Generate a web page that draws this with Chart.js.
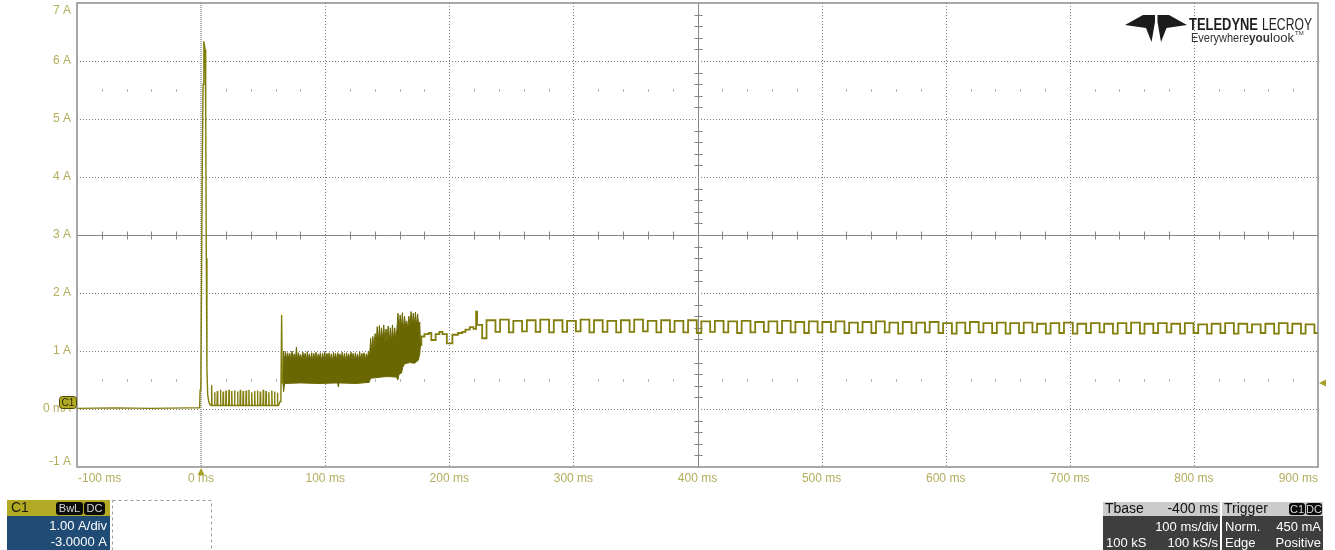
<!DOCTYPE html>
<html>
<head>
<meta charset="utf-8">
<script src="https://cdn.jsdelivr.net/npm/chart.js@4.4.1/dist/chart.umd.min.js"></script>
<style>
  html, body { margin: 0; padding: 0; background: #ffffff; }
  canvas { display: block; }
</style>
</head>
<body>
<canvas id="scope" width="1335" height="550"></canvas>
<script>
// ---- Axis setup (time in ms, current in A) ----
const timeTicks = [-100, 0, 100, 200, 300, 400, 500, 600, 700, 800, 900];
const timeTickLabels = ['-100 ms', '0 ms', '100 ms', '200 ms', '300 ms', '400 ms', '500 ms', '600 ms', '700 ms', '800 ms', '900 ms'];
const ampTicks = [7, 6, 5, 4, 3, 2, 1, 0, -1];
const ampTickLabels = ['7 A', '6 A', '5 A', '4 A', '3 A', '2 A', '1 A', '0 mA', '-1 A'];
const triggerLevel = 0.45; // A

// ---- C1 current trace, [ms, A] ----
const preTrigger = [[-100, 0.01], [-70, 0.02], [-40, 0.01], [-10, 0.02], [-1.2, 0.02]];
const inrush = [[-0.8, 0.33], [-0.2, 0.36], [0.4, 2.4], [1.0, 4.3], [1.6, 5.6], [2.2, 6.34], [2.7, 6.28],
                [3.2, 6.2], [3.7, 5.2], [4.2, 2.6], [4.7, 0.7], [5.3, 0.25], [6.2, 0.12], [7.4, 0.07]];
// short pulses on the idle level
const pulseBase = 0.06;
const pulseTimes = [8.5, 10.9, 13.1, 15.6, 17.8, 20.1, 22.5, 24.7, 27.0, 29.4, 31.6, 33.9,
                    36.3, 38.5, 40.8, 43.2, 45.4, 47.7, 50.1, 52.3, 54.6, 57.0, 59.2, 61.5];
const pulsePeaks = [0.41, 0.29, 0.31, 0.33, 0.30, 0.32, 0.33, 0.31, 0.32, 0.30, 0.33, 0.31,
                    0.32, 0.33, 0.29, 0.31, 0.32, 0.30, 0.33, 0.31, 0.29, 0.32, 0.30, 0.28];
const preBurst = [[62.6, 0.07], [63.6, 0.13], [64.3, 0.24], [64.9, 1.62], [65.4, 0.45], [65.8, 0.5]];

// dense switching burst: upper and lower envelopes
const burstTop = [
  [65.8, 0.5], [66.4, 1.0], [67.2, 0.84], [68.0, 0.99], [68.9, 0.86], [69.8, 0.97], [70.6, 0.85], [71.5, 0.96],
  [72.4, 0.83], [73.2, 1.0], [74.1, 0.87], [75.0, 0.95], [75.9, 0.82], [76.8, 1.07], [77.6, 0.85], [78.5, 0.97],
  [79.4, 0.87], [80.3, 0.94], [81.2, 0.83], [82.0, 0.98], [82.9, 0.86], [83.8, 0.96], [84.7, 0.82], [85.6, 0.99],
  [86.4, 0.87], [87.3, 0.95], [88.2, 0.84], [89.1, 0.97], [90.0, 0.82], [90.8, 0.96], [91.7, 0.86], [92.6, 0.98],
  [93.5, 0.84], [94.4, 0.95], [95.2, 0.87], [96.1, 0.97], [97.0, 0.83], [97.9, 0.96], [98.8, 0.85], [99.6, 0.99],
  [100.5, 0.83], [101.4, 0.96], [102.3, 0.87], [103.2, 0.97], [104.0, 0.84], [104.9, 0.95], [105.8, 0.82], [106.7, 0.98],
  [107.6, 0.86], [108.4, 0.96], [109.3, 0.84], [110.2, 0.97], [111.1, 0.87], [112.0, 0.95], [112.8, 0.83], [113.7, 0.98],
  [114.6, 0.85], [115.5, 0.96], [116.4, 0.82], [117.2, 0.97], [118.1, 0.86], [119.0, 0.95], [119.9, 0.84], [120.8, 0.98],
  [121.6, 0.87], [122.5, 0.96], [123.4, 0.83], [124.3, 0.97], [125.2, 0.85], [126.0, 0.95], [126.9, 0.84], [127.8, 0.98],
  [128.7, 0.83], [129.6, 0.96], [130.4, 0.87], [131.3, 0.97], [132.2, 0.84], [133.1, 0.95], [134.0, 0.86], [134.8, 1.0],
  [135.7, 0.88], [136.6, 1.22], [137.5, 1.0], [138.4, 1.25], [139.3, 1.05], [140.2, 1.3], [141.0, 1.1], [141.9, 1.42],
  [142.8, 1.15], [143.7, 1.44], [144.6, 1.17], [145.4, 1.4], [146.3, 1.2], [147.2, 1.45], [148.1, 1.15], [149.0, 1.38],
  [149.8, 1.18], [150.7, 1.43], [151.6, 1.17], [152.5, 1.4], [153.4, 1.15], [154.2, 1.45], [155.1, 1.18], [156.0, 1.4],
  [156.9, 1.2], [157.8, 1.38], [158.6, 1.65], [159.5, 1.35], [160.4, 1.62], [161.3, 1.4], [162.2, 1.66], [163.0, 1.36],
  [163.9, 1.6], [164.8, 1.42], [165.7, 1.52], [166.6, 1.38], [167.4, 1.6], [168.3, 1.44], [169.2, 1.68], [170.1, 1.46],
  [171.0, 1.65], [171.8, 1.42], [172.7, 1.67], [173.6, 1.44], [174.5, 1.64], [175.4, 1.4], [176.2, 1.5], [176.8, 1.1]
];
const burstBottom = [
  [65.8, 0.5], [66.5, 0.3], [67.3, 0.44], [80, 0.45], [95, 0.44], [110, 0.45], [110.6, 0.38], [111.2, 0.45],
  [125, 0.44], [135.5, 0.46], [136.5, 0.53], [145, 0.55], [150, 0.56], [157.5, 0.55], [158.5, 0.5], [159.5, 0.6],
  [161.5, 0.62], [162.5, 0.72], [164, 0.78], [168, 0.8], [172, 0.79], [175, 0.84], [176.2, 0.95], [176.8, 1.1]
];

// settling: each point is the level that starts at that time
const rampSteps = [
  [176.8, 1.1], [177.5, 1.25], [180, 1.29], [183.5, 1.31], [185.5, 1.19], [189, 1.29], [192, 1.33], [194.5, 1.29],
  [198, 1.13], [202.5, 1.28], [207, 1.31], [210.5, 1.33], [213, 1.37], [216.5, 1.41], [219.5, 1.38], [221.6, 1.68],
  [222.4, 1.45], [226.5, 1.22]
];
// steady ripple: rising edge, falling edge, plateau level, dip level per cycle
const rippleRise = [230.0, 240.9, 251.6, 262.5, 273.3, 284.2, 294.9, 305.8, 316.6, 327.4, 338.3, 349.0, 359.9, 370.7,
  381.5, 392.4, 403.1, 414.0, 424.8, 435.6, 446.5, 457.2, 468.1, 478.9, 489.7, 500.6, 511.3, 522.2, 533.0, 543.8,
  554.7, 565.4, 576.3, 587.1, 597.9, 608.8, 619.5, 630.4, 641.2, 652.0, 662.9, 673.6, 684.5, 695.3, 706.1, 717.0,
  727.7, 738.6, 749.4, 760.2, 771.1, 781.8, 792.7, 803.5, 814.3, 825.2, 835.9, 846.8, 857.6, 868.4, 879.3, 890.0];
const rippleFall = [237.2, 248.0, 258.6, 269.6, 280.4, 291.2, 302.0, 312.9, 323.6, 334.5, 345.3, 356.1, 366.9, 377.8,
  388.6, 399.4, 410.2, 421.0, 431.9, 442.7, 453.5, 464.3, 475.1, 486.0, 496.8, 507.6, 518.4, 529.2, 540.1, 550.9,
  561.7, 572.5, 583.3, 594.2, 605.0, 615.8, 626.6, 637.4, 648.3, 659.1, 669.9, 680.7, 691.5, 702.4, 713.2, 724.0,
  734.8, 745.6, 756.5, 767.3, 778.1, 788.9, 799.7, 810.6, 821.4, 832.2, 843.0, 853.8, 864.7, 875.5, 886.3, 897.1];
const rippleHigh = [1.53, 1.54, 1.52, 1.53, 1.54, 1.53, 1.52, 1.54, 1.53, 1.52, 1.53, 1.54, 1.52, 1.53, 1.52, 1.53,
  1.51, 1.52, 1.51, 1.52, 1.50, 1.51, 1.52, 1.50, 1.51, 1.50, 1.51, 1.49, 1.50, 1.51, 1.49, 1.50, 1.49, 1.50, 1.48,
  1.49, 1.50, 1.48, 1.49, 1.48, 1.49, 1.47, 1.48, 1.49, 1.47, 1.48, 1.47, 1.48, 1.49, 1.47, 1.48, 1.47, 1.48, 1.46,
  1.47, 1.48, 1.47, 1.46, 1.47, 1.48, 1.47, 1.46];
const rippleLow = [1.33, 1.32, 1.34, 1.33, 1.32, 1.33, 1.34, 1.32, 1.33, 1.32, 1.33, 1.34, 1.32, 1.33, 1.32, 1.31,
  1.33, 1.32, 1.31, 1.32, 1.33, 1.31, 1.32, 1.31, 1.32, 1.33, 1.31, 1.32, 1.31, 1.32, 1.30, 1.31, 1.32, 1.31, 1.30,
  1.31, 1.32, 1.31, 1.30, 1.31, 1.32, 1.30, 1.31, 1.30, 1.31, 1.32, 1.30, 1.31, 1.30, 1.31, 1.32, 1.30, 1.31, 1.30,
  1.31, 1.30, 1.32, 1.31, 1.30, 1.31, 1.30, 1.31];

// ---- assemble point lists ----
const pt = ([x, y]) => ({ x, y });
const pulsePts = [];
pulseTimes.forEach((t, i) => {
  pulsePts.push({ x: t - 0.3, y: pulseBase }, { x: t, y: pulsePeaks[i] }, { x: t + 0.3, y: pulseBase });
});
const startTrace = [...preTrigger.map(pt), ...inrush.map(pt), ...pulsePts, ...preBurst.map(pt)];

const ripplePts = rampSteps.map(pt);
const cycles = Math.min(rippleRise.length, rippleFall.length, rippleHigh.length, rippleLow.length);
for (let i = 0; i < cycles; i++) {
  ripplePts.push({ x: rippleRise[i], y: rippleHigh[i] }, { x: rippleFall[i], y: rippleLow[i] });
}
ripplePts.push({ x: timeTicks[timeTicks.length - 1], y: rippleLow[cycles - 1] });

// ---- colours ----
const TRACE = '#827e0c';
const BURST = '#6a6702';
const LABEL = '#b3ad5c';
const GRID = '#7c7c7c';
const FONT = '"Liberation Sans", Arial, sans-serif';

const X_MIN = timeTicks[0], X_MAX = timeTicks[timeTicks.length - 1];
const Y_MIN = ampTicks[ampTicks.length - 1], Y_MAX = ampTicks[0];

// graticule drawn beneath the trace
const graticule = {
  id: 'graticule',
  beforeDatasetsDraw(chart) {
    const { ctx, chartArea: a, scales: { x, y } } = chart;
    const px = v => Math.round(x.getPixelForValue(v)) + 0.5;
    const py = v => Math.round(y.getPixelForValue(v)) + 0.5;
    ctx.save();
    ctx.lineWidth = 1;
    // dotted divisions
    ctx.strokeStyle = GRID;
    ctx.setLineDash([1, 2]);
    timeTicks.forEach(t => {
      if (t === X_MIN || t === X_MAX || t === 400 || t === 0) return;
      ctx.beginPath(); ctx.moveTo(px(t), a.top); ctx.lineTo(px(t), a.bottom); ctx.stroke();
    });
    ampTicks.forEach(v => {
      if (v === Y_MIN || v === Y_MAX || v === 3) return;
      ctx.beginPath(); ctx.moveTo(a.left, py(v)); ctx.lineTo(a.right, py(v)); ctx.stroke();
    });
    // trigger-time marker line
    ctx.strokeStyle = '#a9a9a9';
    ctx.lineWidth = 2;
    ctx.setLineDash([1, 1]);
    const zx = Math.round(x.getPixelForValue(0));
    ctx.beginPath(); ctx.moveTo(zx, a.top); ctx.lineTo(zx, a.bottom); ctx.stroke();
    ctx.setLineDash([]);
    ctx.lineWidth = 1;
    // centre cross with sub-division ticks
    ctx.strokeStyle = '#858585';
    const cx = px(400), cy = py(3);
    ctx.beginPath();
    ctx.moveTo(cx, a.top); ctx.lineTo(cx, a.bottom);
    ctx.moveTo(a.left, cy); ctx.lineTo(a.right, cy);
    for (let i = 0; i < timeTicks.length - 1; i++) {
      for (let k = 1; k < 5; k++) {
        const tx = px(timeTicks[i] + k * 20);
        ctx.moveTo(tx, cy - 4); ctx.lineTo(tx, cy + 4);
      }
    }
    for (let i = 0; i < ampTicks.length - 1; i++) {
      for (let k = 1; k < 5; k++) {
        const ty = py(ampTicks[i] - k * 0.2);
        ctx.moveTo(cx - 4, ty); ctx.lineTo(cx + 4, ty);
      }
    }
    ctx.stroke();
    // faint sub-division marks on the quarter rows
    ctx.fillStyle = '#b4b4b4';
    [5.5, 0.5].forEach(v => {
      const ry = Math.round(y.getPixelForValue(v));
      for (let i = 0; i < timeTicks.length - 1; i++) {
        for (let k = 1; k < 5; k++) {
          const tx = Math.round(x.getPixelForValue(timeTicks[i] + k * 20));
          ctx.fillRect(tx, ry - 1, 1, 3);
        }
      }
    });
    ctx.restore();
  }
};

function roundRect(ctx, x, y, w, h, r) {
  ctx.beginPath();
  ctx.moveTo(x + r, y);
  ctx.arcTo(x + w, y, x + w, y + h, r);
  ctx.arcTo(x + w, y + h, x, y + h, r);
  ctx.arcTo(x, y + h, x, y, r);
  ctx.arcTo(x, y, x + w, y, r);
  ctx.closePath();
}

function badge(ctx, text, x, y, w, h) {
  ctx.fillStyle = '#0c0c0c';
  roundRect(ctx, x, y, w, h, 3);
  ctx.fill();
  ctx.fillStyle = '#d8d8d8';
  ctx.font = '11px ' + FONT;
  ctx.textAlign = 'center';
  ctx.textBaseline = 'middle';
  ctx.fillText(text, x + w / 2, y + h / 2 + 0.5);
}

function squeezedText(ctx, text, x, y, width) {
  const w = ctx.measureText(text).width;
  ctx.save();
  ctx.translate(x, y);
  ctx.scale(width / w, 1);
  ctx.fillText(text, 0, 0);
  ctx.restore();
}

// frame, labels, markers and readout panels
const overlay = {
  id: 'overlay',
  afterDraw(chart) {
    const { ctx, chartArea: a, scales: { x, y } } = chart;
    ctx.save();
    // frame
    ctx.strokeStyle = '#8c8c8c';
    ctx.lineWidth = 1.5;
    ctx.strokeRect(a.left, a.top, a.right - a.left, a.bottom - a.top);

    // axis labels
    ctx.fillStyle = LABEL;
    ctx.font = '12px ' + FONT;
    ctx.textBaseline = 'middle';
    ctx.textAlign = 'right';
    ampTicks.forEach((v, i) => {
      const yy = Math.min(Math.max(y.getPixelForValue(v), a.top + 8), a.bottom - 5);
      ctx.fillText(ampTickLabels[i], a.left - 6, yy);
    });
    timeTicks.forEach((t, i) => {
      let xx = x.getPixelForValue(t);
      if (i === 0) { ctx.textAlign = 'left'; xx = a.left + 1; }
      else if (i === timeTicks.length - 1) { ctx.textAlign = 'right'; xx = a.right; }
      else ctx.textAlign = 'center';
      ctx.fillText(timeTickLabels[i], xx, a.bottom + 12);
    });

    // channel ground marker
    const gy = y.getPixelForValue(0);
    ctx.fillStyle = '#b3ab26';
    ctx.strokeStyle = '#4a4700';
    ctx.lineWidth = 1;
    roundRect(ctx, a.left - 17.5, gy - 12.5, 17, 12, 3);
    ctx.fill(); ctx.stroke();
    ctx.fillStyle = '#2a2a00';
    ctx.font = '10px ' + FONT;
    ctx.textAlign = 'center';
    ctx.fillText('C1', a.left - 9, gy - 6);

    // trigger time marker
    const tx = x.getPixelForValue(0);
    ctx.fillStyle = '#a6a12a';
    ctx.beginPath();
    ctx.moveTo(tx, a.bottom + 1); ctx.lineTo(tx + 3.5, a.bottom + 8); ctx.lineTo(tx - 3.5, a.bottom + 8);
    ctx.closePath(); ctx.fill();
    // trigger level marker
    const ly = y.getPixelForValue(triggerLevel);
    ctx.beginPath();
    ctx.moveTo(a.right + 1, ly); ctx.lineTo(a.right + 8, ly - 3.5); ctx.lineTo(a.right + 8, ly + 3.5);
    ctx.closePath(); ctx.fill();

    // channel readout
    ctx.fillStyle = '#b2aa24';
    ctx.fillRect(7, 500, 103, 16);
    ctx.fillStyle = '#1f4b75';
    ctx.fillRect(7, 516, 103, 34);
    ctx.fillStyle = '#1a1a0a';
    ctx.font = '14px ' + FONT;
    ctx.textAlign = 'left';
    ctx.fillText('C1', 11, 508.5);
    badge(ctx, 'BwL', 56, 502, 27, 13);
    badge(ctx, 'DC', 84, 502, 21, 13);
    ctx.fillStyle = '#ffffff';
    ctx.font = '13px ' + FONT;
    ctx.textAlign = 'right';
    ctx.fillText('1.00 A/div', 107, 526.5);
    ctx.fillText('-3.0000 A', 107, 542.5);
    ctx.strokeStyle = '#9a9a9a';
    ctx.setLineDash([3, 3]);
    ctx.strokeRect(112.5, 500.5, 99, 52);
    ctx.setLineDash([]);

    // timebase readout
    ctx.fillStyle = '#cbcbcb';
    ctx.fillRect(1103, 502, 117, 14);
    ctx.fillRect(1222, 502, 101, 14);
    ctx.fillStyle = '#3e3e3e';
    ctx.fillRect(1103, 516, 117, 34);
    ctx.fillRect(1222, 516, 101, 34);
    ctx.fillStyle = '#111111';
    ctx.font = '14px ' + FONT;
    ctx.textAlign = 'left';
    ctx.fillText('Tbase', 1105, 509.5);
    ctx.fillText('Trigger', 1224, 509.5);
    ctx.textAlign = 'right';
    ctx.fillText('-400 ms', 1218, 509.5);
    badge(ctx, 'C1', 1289, 503, 16, 12);
    badge(ctx, 'DC', 1306, 503, 16, 12);
    ctx.fillStyle = '#ffffff';
    ctx.font = '13px ' + FONT;
    ctx.textAlign = 'right';
    ctx.fillText('100 ms/div', 1218, 527);
    ctx.fillText('100 kS/s', 1218, 543);
    ctx.fillText('450 mA', 1321, 527);
    ctx.fillText('Positive', 1321, 543);
    ctx.textAlign = 'left';
    ctx.fillText('100 kS', 1106, 543);
    ctx.fillText('Norm.', 1225, 527);
    ctx.fillText('Edge', 1225, 543);

    // maker emblem and wordmark
    ctx.fillStyle = '#1b1b1b';
    const wingL = [[1125, 25], [1143, 15], [1155, 15], [1155, 22], [1151.5, 42], [1146, 28]];
    const wingR = [[1187, 25], [1169, 15], [1157.5, 15], [1157.5, 22], [1161, 42], [1166.5, 28]];
    [wingL, wingR].forEach(poly => {
      ctx.beginPath();
      poly.forEach(([qx, qy], i) => (i ? ctx.lineTo(qx, qy) : ctx.moveTo(qx, qy)));
      ctx.closePath(); ctx.fill();
    });
    ctx.textBaseline = 'alphabetic';
    ctx.textAlign = 'left';
    ctx.fillStyle = '#1e1e1e';
    ctx.font = 'bold 17px ' + FONT;
    squeezedText(ctx, 'TELEDYNE', 1189, 30, 69);
    ctx.font = '17px ' + FONT;
    squeezedText(ctx, 'LECROY', 1262, 30, 50);
    ctx.fillStyle = '#333333';
    ctx.font = '13px ' + FONT;
    squeezedText(ctx, 'Everywhere', 1191, 42, 58);
    ctx.font = 'bold 13px ' + FONT;
    squeezedText(ctx, 'you', 1249, 42, 21);
    ctx.font = '13px ' + FONT;
    squeezedText(ctx, 'look', 1270, 42, 24);
    ctx.font = '6px ' + FONT;
    ctx.fillText('TM', 1295, 35);
    ctx.restore();
  }
};

new Chart(document.getElementById('scope'), {
  type: 'line',
  data: {
    datasets: [
      { data: startTrace, borderColor: TRACE, borderWidth: 1.4, fill: false },
      { data: burstTop.map(pt), borderColor: BURST, backgroundColor: BURST, borderWidth: 1, fill: '+1' },
      { data: burstBottom.map(pt), borderColor: BURST, borderWidth: 1, fill: false },
      { data: ripplePts, borderColor: TRACE, borderWidth: 1.8, stepped: true, fill: false }
    ]
  },
  options: {
    responsive: false,
    animation: false,
    devicePixelRatio: 1,
    layout: { padding: { left: 77, top: 3, right: 17, bottom: 83 } },
    elements: { point: { radius: 0 }, line: { tension: 0 } },
    plugins: { legend: { display: false }, tooltip: { enabled: false } },
    scales: {
      x: { type: 'linear', min: X_MIN, max: X_MAX, display: false },
      y: { type: 'linear', min: Y_MIN, max: Y_MAX, display: false }
    }
  },
  plugins: [graticule, overlay]
});
</script>
</body>
</html>
